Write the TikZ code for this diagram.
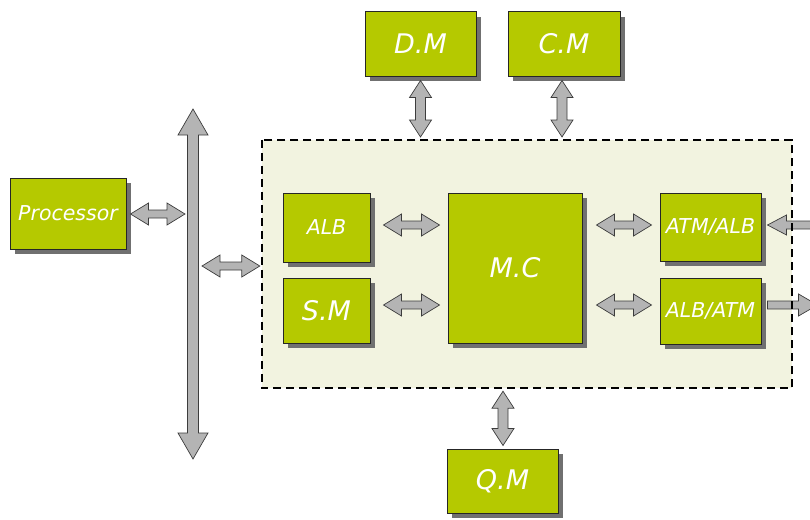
\documentclass[tikz,border=0pt]{standalone}
\usepackage{fontspec}
\newfontfamily\lblfont{DejaVu Sans}
\usetikzlibrary{calc,shadows}
\definecolor{boxgreen}{RGB}{181,201,0}
\definecolor{shadowgray}{RGB}{112,112,112}
\definecolor{contfill}{RGB}{242,243,224}
\definecolor{arrfill}{RGB}{180,180,180}
\definecolor{arrline}{RGB}{60,60,60}
\tikzset{
  mod/.style={draw=black!85, line width=1pt, fill=boxgreen, text=white,
    inner sep=0pt, font=\lblfont\itshape,
    general shadow={fill=shadowgray, shadow xshift=5pt, shadow yshift=-5pt}},
  fatarrow/.style={draw=arrline, fill=arrfill, line width=0.7pt, line join=miter},
  fs20/.style={font=\lblfont\itshape\fontsize{20.5}{24}\selectfont},
  fs25/.style={font=\lblfont\itshape\fontsize{27}{30}\selectfont},
}
% horizontal double arrow, #1 left tip, #2 right tip (y of #1)
\newcommand{\harr}[2]{%
  \draw[fatarrow] let \p1=#1, \p2=#2 in
    (\x1,\y1) -- (\x1+18pt,\y1+11pt) -- (\x1+18pt,\y1+4pt) -- (\x2-18pt,\y1+4pt)
    -- (\x2-18pt,\y1+11pt) -- (\x2,\y1) -- (\x2-18pt,\y1-11pt) -- (\x2-18pt,\y1-4pt)
    -- (\x1+18pt,\y1-4pt) -- (\x1+18pt,\y1-11pt) -- cycle;}
% vertical double arrow, #1 top tip, #2 bottom tip (x of #1)
\newcommand{\varr}[5]{%
  \draw[fatarrow] let \p1=#1, \p2=#2 in
    (\x1,\y1) -- (\x1+#4,\y1-#3) -- (\x1+#5,\y1-#3) -- (\x1+#5,\y2+#3)
    -- (\x1+#4,\y2+#3) -- (\x1,\y2) -- (\x1-#4,\y2+#3) -- (\x1-#5,\y2+#3)
    -- (\x1-#5,\y1-#3) -- (\x1-#4,\y1-#3) -- cycle;}
\begin{document}
\begin{tikzpicture}[x=1pt,y=-1pt]
\useasboundingbox (0,0) rectangle (810,519);
\clip (0,0) rectangle (810,519);
% container
\node[fill=contfill, minimum width=530pt, minimum height=248pt, inner sep=0pt] (cont) at (527,264) {};
% modules
\node[mod, fs20, minimum width=116pt, minimum height=71pt] (proc) at (68,213.5) {Processor};
\node[mod, fs25, minimum width=111pt, minimum height=64pt] (dm) at (420.5,44) {D.M};
\node[mod, fs25, minimum width=112pt, minimum height=64pt] (cm) at (564,44) {C.M};
\node[mod, fs20, minimum width=87pt, minimum height=69pt] (alb) at (326.5,227.5) {ALB};
\node[mod, fs25, minimum width=87pt, minimum height=65pt] (sm) at (326.5,310.5) {S.M};
\node[mod, fs25, minimum width=134pt, minimum height=150pt] (mc) at (515,268) {M.C};
\node[mod, fs20, minimum width=101pt, minimum height=68pt] (atm) at (710.5,227) {ATM/ALB};
\node[mod, fs20, minimum width=101pt, minimum height=66pt] (albatm) at (710.5,311) {ALB/ATM};
\node[mod, fs25, minimum width=111pt, minimum height=64pt] (qm) at (502.5,481) {Q.M};
% bus
\coordinate (bustop) at (193,109);
\coordinate (busbot) at (193,459);
\varr{(bustop)}{(busbot)}{26pt}{15pt}{5.5pt}
% arrows
\harr{($(proc.east)+(4,0.5)$)}{(185,214)}
\harr{(202,266)}{($(cont.west)+(-2,2)$)}
\harr{($(alb.east)+(13,-2.5)$)}{($(mc.west)+(-8,0)$)}
\harr{($(sm.east)+(13,-5.5)$)}{($(mc.west)+(-8,0)$)}
\harr{($(mc.east)+(14,-43)$)}{($(atm.west)+(-8,0)$)}
\harr{($(mc.east)+(14,37)$)}{($(albatm.west)+(-8,0)$)}
\varr{($(dm.south)+(0,4)$)}{(420,137)}{17pt}{11pt}{5pt}
\varr{($(cm.south)+(-2,4)$)}{(562,137)}{17pt}{11pt}{5pt}
\varr{($(cont.south)+(-24,3)$)}{($(qm.north)+(0,-3)$)}{17pt}{11pt}{5pt}
% external single arrows
\draw[fatarrow] let \p1=($(atm.east)+(6,-2)$) in
  (\x1,\y1) -- (\x1+19pt,\y1+10pt) -- (\x1+19pt,\y1+4pt) -- (\x1+60pt,\y1+4pt)
  -- (\x1+60pt,\y1-4pt) -- (\x1+19pt,\y1-4pt) -- (\x1+19pt,\y1-10pt) -- cycle;
\draw[fatarrow] let \p1=($(albatm.east)+(6,-6)$) in
  (\x1,\y1+4pt) -- (\x1+31pt,\y1+4pt) -- (\x1+31pt,\y1+11pt) -- (\x1+50pt,\y1)
  -- (\x1+31pt,\y1-11pt) -- (\x1+31pt,\y1-4pt) -- (\x1,\y1-4pt) -- cycle;
% dashed border
\draw[line width=1.6pt, dash pattern=on 8pt off 5pt] (cont.north west) rectangle (cont.south east);
\end{tikzpicture}
\end{document}
